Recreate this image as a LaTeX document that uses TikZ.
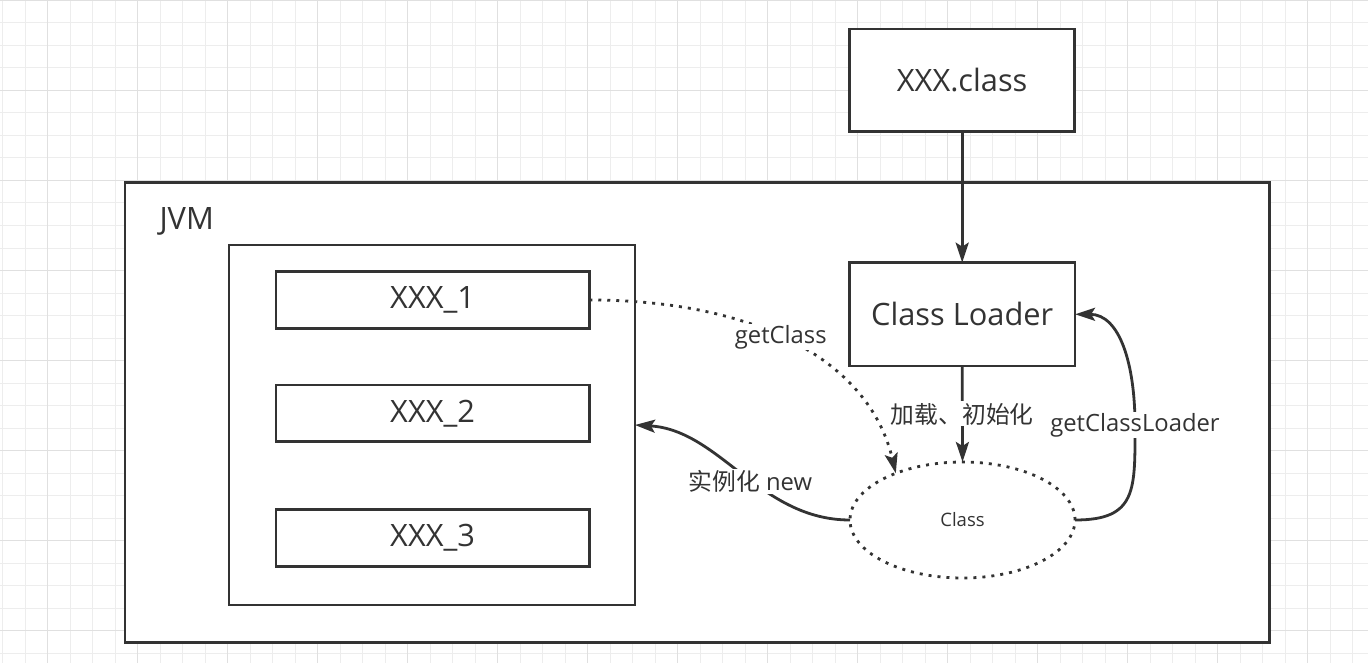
\documentclass[tikz,border=0pt]{standalone}
\usepackage{fontspec}
\setmainfont{Open Sans}
\newfontfamily\cjk{Noto Sans CJK SC}
\usetikzlibrary{arrows.meta,shapes.geometric}
\definecolor{ink}{HTML}{333333}
\definecolor{gridminor}{HTML}{EDEDED}
\definecolor{gridmajor}{HTML}{E0E0E0}
\tikzset{
  minorgrid/.style={draw=gridminor, line width=1pt},
  majorgrid/.style={draw=gridmajor, line width=1pt},
  shapebox/.style={draw=ink, line width=2.8pt, fill=white, rectangle, inner sep=0pt, outer sep=0pt, text=ink},
  bigtext/.style={font=\fontsize{30.8}{36}\selectfont},
  lbl/.style={fill=white, text=ink, inner sep=1.5pt, font=\fontsize{23.8}{28}\selectfont},
  conn/.style={draw=ink, line width=2.8pt, -{Stealth[length=20pt,width=13pt,inset=4pt]}},
  dotconn/.style={conn, dash pattern=on 3pt off 6pt},
}
\begin{document}
\begin{tikzpicture}[x=1pt,y=-1pt]
\useasboundingbox (0,0) rectangle (1368,663);
\fill[white] (0,0) rectangle (1368,663);
% grid
\foreach \i in {0,...,60} \draw[minorgrid] ({2.6+22.5*\i},0) -- ({2.6+22.5*\i},663);
\foreach \i in {0,...,29} \draw[minorgrid] (0,{0.5+22.5*\i}) -- (1368,{0.5+22.5*\i});
\foreach \i in {0,...,14} \draw[majorgrid] ({47.6+90*\i},0) -- ({47.6+90*\i},663);
\foreach \i in {0,...,7} \draw[majorgrid] (0,{0.5+90*\i}) -- (1368,{0.5+90*\i});

% boxes
\node[shapebox, minimum width=1144.5pt, minimum height=460pt] (jvm) at (697.25,412.5) {};
\node[text=ink, bigtext, inner sep=0pt] (jvmlbl) at (186.7,221) {JVM};
\node[shapebox, minimum width=406pt, minimum height=360pt] (inner) at (432,425) {};
\node[shapebox, bigtext, minimum width=313.3pt, minimum height=56.6pt] (x1) at (432.6,300) {XXX\_1};
\node[shapebox, bigtext, minimum width=313.3pt, minimum height=56.7pt] (x2) at (432.6,413.3) {XXX\_2};
\node[shapebox, bigtext, minimum width=313.3pt, minimum height=57.4pt] (x3) at (432.6,538) {XXX\_3};
\node[shapebox, bigtext, minimum width=225pt, minimum height=102.7pt] (cls) at (962.2,80.3) {XXX.class};
\node[shapebox, bigtext, minimum width=225.7pt, minimum height=103.3pt] (loader) at (962.2,314.3) {Class Loader};
\node[ellipse, draw=ink, line width=2.8pt, dash pattern=on 3pt off 6pt, fill=white, text=ink,
      minimum width=225pt, minimum height=116pt, inner sep=0pt, outer sep=0pt,
      font=\fontsize{18.5}{22}\selectfont] (cl) at (962.5,520) {Class};

% connectors
\draw[conn] (cls.south) -- (loader.north);
\draw[conn] (loader.south) -- node[lbl] {\cjk 加载、初始化} (cl.north);
\coordinate (gcl) at (1135,425);
\draw[conn] (cl.east) .. controls +(62,0) and +(0,65) .. (gcl) node[lbl] {getClassLoader}
  .. controls +(0,-60) and +(45,0) .. (loader.east);
\draw[conn] (cl.west) .. controls +(-90,0) and +(85,5) .. node[lbl, pos=0.45] {{\cjk 实例化} new} (inner.east);
\draw[dotconn] (x1.east) .. controls +(171,0) and +(-26,-110) .. node[lbl, pos=0.45] {getClass} (cl.145);
\end{tikzpicture}
\end{document}
